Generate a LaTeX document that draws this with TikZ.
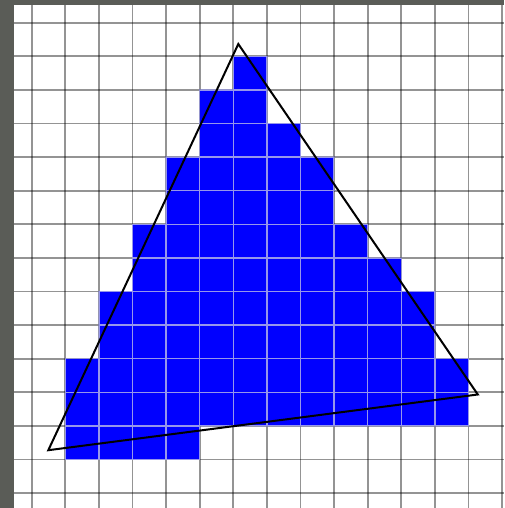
\documentclass[tikz,border=0pt]{standalone}
\begin{document}
\begin{tikzpicture}[x=1pt,y=-1pt]
\definecolor{bgdark}{RGB}{90,92,87}
\definecolor{cellblue}{RGB}{0,0,255}
\definecolor{gridonblue}{RGB}{150,150,235}
\tikzset{
  gridline/.style={line width=1.8pt, black, opacity=0.42},
  bluegridline/.style={line width=1.4pt, gridonblue},
  trioutline/.style={line width=2pt, black, line join=miter}
}
\useasboundingbox (0,0) rectangle (504,508);
\fill[bgdark] (0,0) rectangle (504,508);
\fill[white] (14,5) rectangle (504,508);
% grid on white
\foreach \i in {0,...,14} {
  \draw[gridline] ({31.7+33.6*\i},5) -- ({31.7+33.6*\i},508);
}
\foreach \j in {0,...,14} {
  \draw[gridline] (14,{22.7+33.6*\j}) -- (504,{22.7+33.6*\j});
}
% blue cells: row / first column line / last column line
\foreach \r/\a/\b in {1/6/7, 2/5/7, 3/5/8, 4/4/9, 5/4/9, 6/3/10, 7/3/11, 8/2/12, 9/2/12, 10/1/13, 11/1/13, 12/1/5} {
  \fill[cellblue] ({31.7+33.6*\a},{22.7+33.6*\r}) rectangle ({31.7+33.6*\b},{22.7+33.6*(\r+1)});
}
% grid lines over the blue cells
\begin{scope}
  \clip \foreach \r/\a/\b in {1/6/7, 2/5/7, 3/5/8, 4/4/9, 5/4/9, 6/3/10, 7/3/11, 8/2/12, 9/2/12, 10/1/13, 11/1/13, 12/1/5} {
    ({31.7+33.6*\a-0.4},{22.7+33.6*\r-0.4}) rectangle ({31.7+33.6*\b+0.4},{22.7+33.6*(\r+1)+0.4})
  };
  \foreach \i in {0,...,14} {
    \draw[bluegridline] ({31.7+33.6*\i},5) -- ({31.7+33.6*\i},508);
  }
  \foreach \j in {0,...,14} {
    \draw[bluegridline] (14,{22.7+33.6*\j}) -- (504,{22.7+33.6*\j});
  }
\end{scope}
% triangle
\coordinate (apex) at (238.3,44);
\coordinate (rightv) at (477.8,394.5);
\coordinate (leftv) at (48.3,450.2);
\draw[trioutline] (apex) -- (rightv) -- (leftv) -- cycle;
\end{tikzpicture}
\end{document}
